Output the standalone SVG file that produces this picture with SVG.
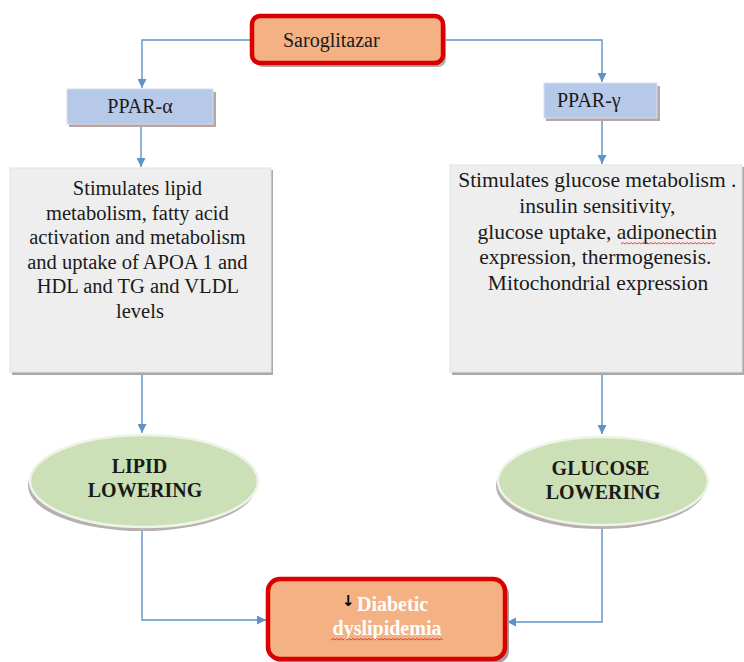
<svg xmlns="http://www.w3.org/2000/svg" width="744" height="662" viewBox="0 0 744 662">
<style>
.t{font-family:"Liberation Serif","Times New Roman",serif;fill:#1a1a1a}
.c{fill:none;stroke:#5f93c8;stroke-width:1.4}
.red{fill:#f4b183;stroke:#d90000;stroke-width:4.5}
.ppar{fill:#b7c9e8;stroke:#d6def0;stroke-width:1}
.gray{fill:#eeeeee;stroke:#e2e2e2;stroke-width:1}
.ell{fill:#cbe0b6;stroke:#eef4e6;stroke-width:2.5}
.b{font-weight:bold}
.w{fill:#ffffff}
.sq{fill:none;stroke:#e03030;stroke-width:0.9}
</style>
<defs>
<marker id="ah" viewBox="0 0 10 10" refX="10" refY="5" markerWidth="9" markerHeight="9" markerUnits="userSpaceOnUse" orient="auto">
<path d="M0,0 L10,5 L0,10 z" fill="#5f93c8"/>
</marker>
</defs>
<rect width="744" height="662" fill="#ffffff"/>

<g id="connectors">
<path class="c" d="M252,40 H142 V88" marker-end="url(#ah)"/>
<path class="c" d="M443,40 H602 V82" marker-end="url(#ah)"/>
<path class="c" d="M141,125 V167" marker-end="url(#ah)"/>
<path class="c" d="M602,119 V164" marker-end="url(#ah)"/>
<path class="c" d="M142,374 V433" marker-end="url(#ah)"/>
<path class="c" d="M602,375 V434" marker-end="url(#ah)"/>
<path class="c" d="M142,528 V620 H266" marker-end="url(#ah)"/>
<path class="c" d="M602,526 V622 H507" marker-end="url(#ah)"/>
</g>

<g id="saroglitazar">
<rect x="255" y="20" width="191" height="47" rx="8" fill="#b0b0b0"/>
<rect class="red" x="252" y="16" width="191" height="47" rx="8"/>
<text class="t" x="283" y="47" font-size="20">Saroglitazar</text>
</g>

<g id="ppar-alpha">
<rect x="69" y="92" width="147" height="35" fill="#b9a7a7"/>
<rect class="ppar" x="67" y="89" width="146" height="35"/>
<text class="t" x="140" y="113" font-size="20" text-anchor="middle">PPAR-α</text>
</g>

<g id="ppar-gamma">
<rect x="546" y="86" width="114" height="35" fill="#b9a7a7"/>
<rect class="ppar" x="544" y="83" width="113" height="35"/>
<text class="t" x="557" y="107" font-size="20">PPAR-γ</text>
</g>

<g id="lipid-box">
<rect x="12" y="170" width="261" height="205" fill="#a9a9a9"/>
<rect class="gray" x="10" y="168" width="261" height="204"/>
<text class="t" font-size="20.5" text-anchor="middle">
<tspan x="140" y="195">Stimulates lipid</tspan>
<tspan x="140" y="219.5">metabolism, fatty acid</tspan>
<tspan x="140" y="244">activation and metabolism</tspan>
<tspan x="140" y="268.5">and uptake of APOA 1 and</tspan>
<tspan x="140" y="293">HDL and  TG and VLDL</tspan>
<tspan x="140" y="317.5">levels</tspan>
</text>
</g>

<g id="glucose-box">
<rect x="452" y="167" width="292" height="208" fill="#a9a9a9"/>
<rect class="gray" x="450" y="165" width="292" height="207"/>
<text class="t" font-size="21.5" text-anchor="middle">
<tspan x="600" y="187">Stimulates glucose metabolism .</tspan>
<tspan x="600" y="213">insulin sensitivity,</tspan>
<tspan x="600" y="239">glucose uptake, adiponectin</tspan>
<tspan x="598" y="264">expression, thermogenesis.</tspan>
<tspan x="598" y="290">Mitochondrial expression</tspan>
</text>
<path class="sq" d="M621,244 l2,-1.5 l2,1.5 l2,-1.5 l2,1.5 l2,-1.5 l2,1.5 l2,-1.5 l2,1.5 l2,-1.5 l2,1.5 l2,-1.5 l2,1.5 l2,-1.5 l2,1.5 l2,-1.5 l2,1.5 l2,-1.5 l2,1.5 l2,-1.5 l2,1.5 l2,-1.5 l2,1.5 l2,-1.5 l2,1.5 l2,-1.5 l2,1.5 l2,-1.5 l2,1.5 l2,-1.5 l2,1.5 l2,-1.5 l2,1.5 l2,-1.5 l2,1.5 l2,-1.5 l2,1.5 l2,-1.5 l2,1.5 l2,-1.5 l2,1.5 l2,-1.5 l2,1.5 l2,-1.5 l2,1.5 l2,-1.5 l2,1.5 l2,-1.5"/>
</g>

<g id="lipid-lowering">
<ellipse cx="142" cy="486" rx="114" ry="45" fill="#b8b0b0"/>
<ellipse class="ell" cx="144" cy="481" rx="114" ry="46"/>
<text class="t b" font-size="20" text-anchor="middle">
<tspan x="142" y="473">LIPID</tspan>
<tspan x="145" y="497">LOWERING</tspan>
</text>
</g>

<g id="glucose-lowering">
<ellipse cx="601" cy="486" rx="105" ry="43" fill="#b8b0b0"/>
<ellipse class="ell" cx="603" cy="481" rx="105" ry="44"/>
<text class="t b" font-size="20" text-anchor="middle">
<tspan x="603" y="475">GLUCOSE</tspan>
<tspan x="603" y="499">LOWERING</tspan>
</text>
</g>

<g id="diabetic-dyslipidemia">
<rect x="271" y="583" width="238" height="80" rx="12" fill="#a0a0a0"/>
<rect class="red" x="268" y="579" width="237" height="80" rx="12" stroke-width="5"/>
<text x="342" y="606" font-size="15" font-weight="bold" fill="#000" font-family="'DejaVu Sans',sans-serif">↓</text>
<text class="t b w" x="357" y="611" font-size="20">Diabetic</text>
<text class="t b w" x="387" y="635" font-size="20" text-anchor="middle">dyslipidemia</text>
<path class="sq" d="M331,640 l2,-1.5 l2,1.5 l2,-1.5 l2,1.5 l2,-1.5 l2,1.5 l2,-1.5 l2,1.5 l2,-1.5 l2,1.5 l2,-1.5 l2,1.5 l2,-1.5 l2,1.5 l2,-1.5 l2,1.5 l2,-1.5 l2,1.5 l2,-1.5 l2,1.5 l2,-1.5 l2,1.5 l2,-1.5 l2,1.5 l2,-1.5 l2,1.5 l2,-1.5 l2,1.5 l2,-1.5 l2,1.5 l2,-1.5 l2,1.5 l2,-1.5 l2,1.5 l2,-1.5 l2,1.5 l2,-1.5 l2,1.5 l2,-1.5 l2,1.5 l2,-1.5 l2,1.5 l2,-1.5 l2,1.5 l2,-1.5 l2,1.5 l2,-1.5 l2,1.5 l2,-1.5 l2,1.5 l2,-1.5 l2,1.5 l2,-1.5 l2,1.5 l2,-1.5 l2,1.5"/>
</g>
</svg>
